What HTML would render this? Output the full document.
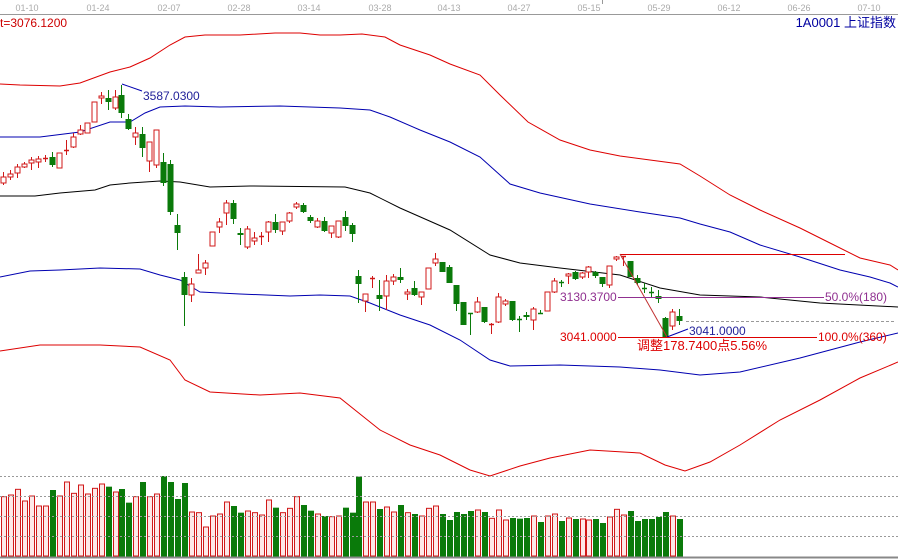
<!DOCTYPE html>
<html><head><meta charset="utf-8"><style>
html,body{margin:0;padding:0;background:#fff;}
svg{display:block;font-family:"Liberation Sans","Noto Sans CJK SC",sans-serif;}
</style></head><body>
<svg id="s" width="898" height="559" viewBox="0 0 898 559" xmlns="http://www.w3.org/2000/svg">
<rect width="898" height="559" fill="#fff"/>
<line x1="0" y1="14.5" x2="898" y2="14.5" stroke="#999"/>
<line x1="602.5" y1="0" x2="602.5" y2="4" stroke="#999"/>
<g font-size="9" fill="#aaa" text-anchor="middle">
<text x="27" y="11">01-10</text><text x="98" y="11">01-24</text><text x="169" y="11">02-07</text>
<text x="239" y="11">02-28</text><text x="309" y="11">03-14</text><text x="380" y="11">03-28</text>
<text x="449" y="11">04-13</text><text x="519" y="11">04-27</text><text x="589" y="11">05-15</text>
<text x="659" y="11">05-29</text><text x="729" y="11">06-12</text><text x="799" y="11">06-26</text>
<text x="869" y="11">07-10</text></g>
<text x="0" y="27" font-size="12" fill="#c00">t=3076.1200</text>
<text x="896" y="27" font-size="13" fill="#0000a0" text-anchor="end">1A0001  上证指数</text>
<g fill="none" stroke-width="1">
<polyline stroke="#d00" points="0,84 20,85 60,86 80,83 110,72 130,67 150,58 170,45 185,37 205,35 240,35 275,33 300,33 320,35 340,35 362,34 385,37 400,45 430,55 450,64 480,75 500,95 528,122 560,140 590,150 620,156 650,160 680,164 700,176 730,195 760,210 800,228 830,243 860,258 890,265 898,270"/>
<polyline stroke="#0000b0" points="0,137 40,137 80,132 110,122 130,122 145,113 160,107 185,106 220,107 280,106 340,108 370,110 390,117 420,130 450,142 480,157 510,184 540,193 590,204 640,212 680,218 700,224 730,232 760,245 800,257 840,270 870,277 890,283 898,287"/>
<polyline stroke="#000" points="0,196 35,196 60,193 95,190 110,185 130,183 160,181 180,182 210,187 250,186 345,187 370,193 400,208 450,230 490,255 520,263 560,268 620,275 660,288 700,295 760,297 820,303 898,307"/>
<polyline stroke="#0000b0" points="0,277 30,271 60,270 100,268 140,269 160,275 180,280 200,292 240,294 290,296 320,295 350,296 370,303 400,315 430,325 460,340 490,360 510,366 560,365 620,367 660,370 700,375 740,372 800,358 860,342 898,333"/>
<polyline stroke="#d00" points="0,351 40,345 100,345 140,347 170,360 185,380 210,392 260,395 300,393 340,398 355,410 380,430 410,445 440,455 470,470 490,476 520,466 550,458 590,450 640,453 665,465 685,471 710,462 740,445 780,420 820,400 860,378 898,362"/>
</g>
<g id="c"></g>
<g id="v"></g>
<g stroke="#999" stroke-dasharray="2,2"><line x1="0" y1="476.5" x2="898" y2="476.5"/><line x1="0" y1="496.5" x2="898" y2="496.5"/><line x1="0" y1="516.5" x2="898" y2="516.5"/><line x1="0" y1="536.5" x2="898" y2="536.5"/></g>
<line x1="0" y1="557.5" x2="898" y2="557.5" stroke="#888" stroke-width="2"/>
<line x1="122" y1="84" x2="142" y2="91" stroke="#0000b0"/>
<text x="143" y="100" font-size="12" fill="#22229a">3587.0300</text>
<line x1="620" y1="254.5" x2="845" y2="254.5" stroke="#d00"/>
<line x1="620" y1="254" x2="667" y2="337" stroke="#c03030"/>
<line x1="618" y1="297.5" x2="824" y2="297.5" stroke="#903090"/>
<text x="560" y="301" font-size="12" fill="#903090">3130.3700</text>
<text x="825" y="301" font-size="12" fill="#903090">50.0%(180)</text>
<line x1="686" y1="321.5" x2="896" y2="321.5" stroke="#999" stroke-dasharray="3,2"/>
<line x1="667" y1="337" x2="688" y2="329" stroke="#0000b0"/>
<text x="689" y="335" font-size="12" fill="#22229a">3041.0000</text>
<line x1="618" y1="337.5" x2="817" y2="337.5" stroke="#d00"/>
<text x="560" y="341" font-size="12" fill="#d00">3041.0000</text>
<text x="818" y="341" font-size="12" fill="#d00">100.0%(360)</text>
<text x="637" y="350" font-size="13" fill="#d00">调整178.7400点5.56%</text>
</svg>
<script>
var C=[
[183,177,185,172,1],[177,174,180,170,1],[173,167,178,164,1],[167,164,168,162,1],[163,160,170,157,1],[162,159,168,156,1],[159,158,162,155,1],[157,165,167,152,0],[168,153,168,153,1],[151,150,155,140,1],
[147,137,148,133,1],[134,130,135,125,1],[133,123,133,123,1],[122,102,122,102,1],[98,96,104,92,1],[98,102,110,90,0],[108,97,110,90,1],[95,113,118,85,0],[119,129,130,114,0],[137,133,145,127,1],
[134,148,157,127,0],[161,142,172,142,1],[165,130,168,130,1],[162,183,186,153,0],[164,212,215,160,0],[225,233,250,214,0],[277,295,326,272,0],[295,284,302,278,1],[273,270,273,254,1],[268,263,275,260,1],
[246,232,246,232,1],[227,222,233,218,1],[213,203,225,200,1],[203,219,224,200,0],[233,235,245,228,0],[247,229,249,226,1],[241,238,245,232,1],[237,236,245,232,1],[232,222,242,221,1],[222,230,233,214,0],
[231,222,235,222,1],[221,213,223,212,1],[207,204,209,202,1],[205,212,213,203,0],[217,221,223,215,0],[227,221,228,218,1],[221,231,232,217,0],[233,226,238,226,1],[237,221,238,221,1],[217,226,231,211,0],
[225,234,242,223,0],[276,284,303,270,0],[301,294,312,294,1],[278,278,288,276,1],[295,299,311,280,0],[296,281,310,275,1],[281,277,285,274,1],[277,280,283,268,0],[294,292,300,289,1],[288,295,296,281,0],
[297,292,305,292,1],[289,268,289,268,1],[263,259,266,253,1],[262,272,272,262,0],[267,283,283,265,0],[285,304,311,285,0],[302,325,325,302,0],[313,313,335,313,0],[312,302,313,297,1],[307,322,323,307,0],
[325,324,334,323,1],[322,297,323,293,1],[304,301,306,299,1],[301,320,321,301,0],[319,319,332,316,0],[315,317,320,312,0],[320,309,330,307,1],[313,313,314,310,0],[311,292,311,292,1],[292,281,293,278,1],
[282,282,287,280,0],[276,274,284,273,1],[272,279,280,271,0],[277,273,279,272,1],[272,267,278,266,1],[272,276,278,271,0],[277,284,287,277,0],[285,266,288,266,1],[259,257,261,256,1],[256,256,266,256,1],
[261,277,277,261,0],[278,283,285,275,0],[288,288,293,283,0],[292,292,297,287,0],[296,299,303,290,0],[318,337,337,317,0],[326,312,330,309,1],[316,321,325,309,0]];
var V=[110,105,88,123,108,138,138,90,108,66,100,75,102,85,72,80,96,87,128,110,66,110,102,48,66,117,69,156,158,201,168,162,126,138,158,153,158,165,120,143,158,145,110,135,152,162,168,170,168,143,158,50,126,126,147,141,156,135,158,162,168,145,138,162,180,156,162,153,150,156,175,150,180,174,176,174,168,186,168,162,183,174,177,177,180,177,189,171,148,165,153,183,177,177,171,156,168,177];
var VC=[1,1,1,1,1,1,1,0,1,1,1,1,1,1,1,0,1,0,0,1,0,1,1,0,0,0,0,1,1,1,1,1,1,0,0,1,1,1,1,0,1,1,1,0,0,1,0,1,1,0,0,0,1,1,0,1,1,0,1,0,1,1,1,0,0,0,0,0,1,0,1,1,1,0,0,0,1,0,1,1,0,1,0,1,1,0,0,1,1,1,0,0,0,0,0,0,1,0];
var h="";
C.forEach(function(d,i){var x=Math.round(3+6.97*i)+0.5,t=Math.min(d[0],d[1]),b=Math.max(d[0],d[1]);var col=d[4]?"#d01818":"#0a7a0a";
h+='<line x1="'+x+'" x2="'+x+'" y1="'+d[3]+'" y2="'+d[2]+'" stroke="'+col+'"/>';
if(b-t<1.5){h+='<line x1="'+(x-2.5)+'" x2="'+(x+2.5)+'" y1="'+(t+0.5)+'" y2="'+(t+0.5)+'" stroke="'+col+'" stroke-width="1.5"/>';}
else if(d[4]){h+='<rect x="'+(x-2.5)+'" y="'+t+'" width="5" height="'+(b-t)+'" fill="#fff" stroke="'+col+'"/>';}
else{h+='<rect x="'+(x-3)+'" y="'+t+'" width="6" height="'+(b-t)+'" fill="'+col+'"/>';}});
document.getElementById("c").innerHTML=h;h="";
V.forEach(function(z,i){var x=Math.round(1+6.97*i),top=460+z/3;
if(VC[i])h+='<rect x="'+(x+0.5)+'" y="'+top+'" width="5" height="'+(556-top)+'" fill="#fde8e8" stroke="#d01818"/>';
else h+='<rect x="'+x+'" y="'+top+'" width="6" height="'+(557-top)+'" fill="#0a7a0a"/>';});
document.getElementById("v").innerHTML=h;
</script>
</body></html>
